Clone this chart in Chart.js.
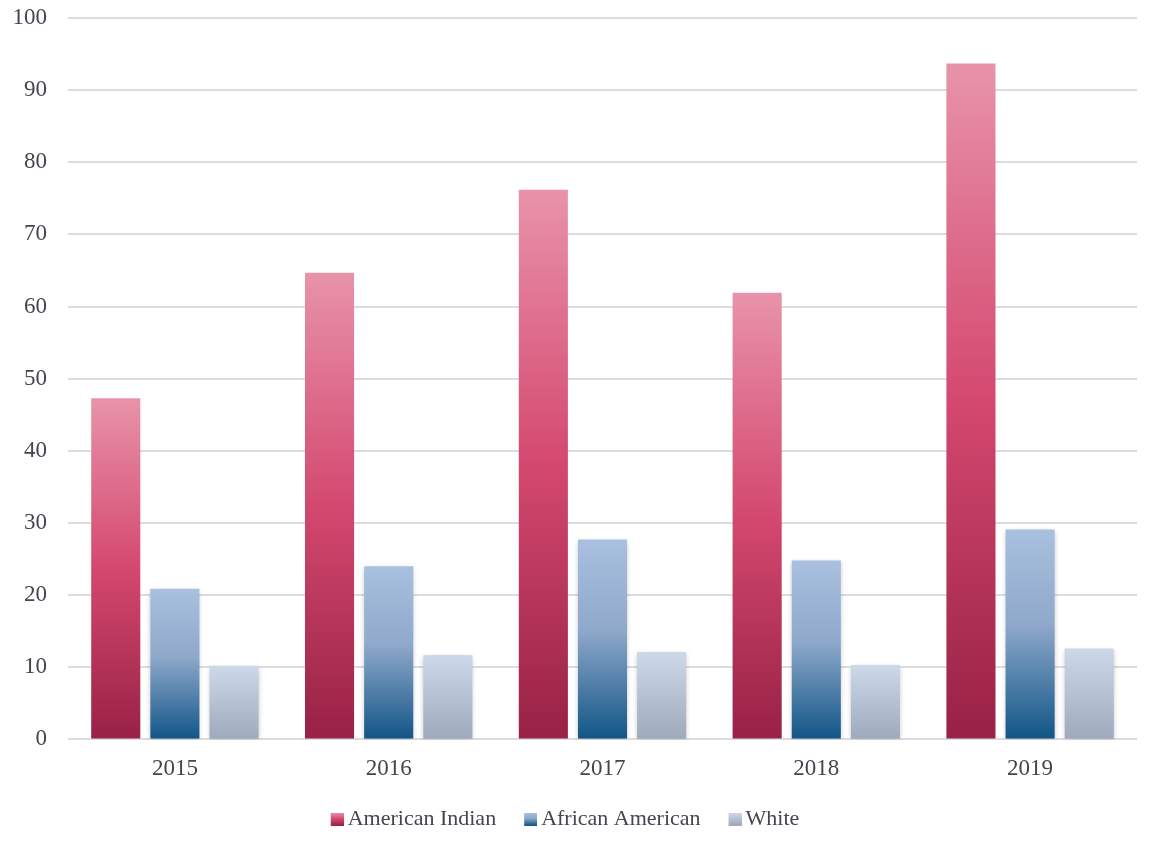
<!DOCTYPE html>
<html><head><meta charset="utf-8">
<script src="https://cdn.jsdelivr.net/npm/chart.js@4.4.1/dist/chart.umd.min.js"></script>
<style>html,body{margin:0;padding:0;background:#fff}#wrap{width:1156px;height:852px}</style>
</head><body><div id="wrap"><canvas id="c" width="1156" height="852"></canvas></div>
<script>
const categories = ["2015","2016","2017","2018","2019"];
const americanIndian = [47.3, 64.7, 76.2, 61.9, 93.7];
const africanAmerican = [20.9, 24.0, 27.7, 24.8, 29.1];
const white = [10.2, 11.7, 12.1, 10.3, 12.6];
const yTicks = [0,10,20,30,40,50,60,70,80,90,100];

const stops = [
  [[0,'#e893aa'],[0.5,'#d4486f'],[1,'#982145']],
  [[0,'#a9c0df'],[0.45,'#8fa9cb'],[1,'#115586']],
  [[0,'#cdd9e9'],[1,'#9ea9bb']]
];
function grad(ctx, y0, y1, s){
  const g = ctx.createLinearGradient(0,y0,0,y1);
  s.forEach(p=>g.addColorStop(p[0],p[1]));
  return g;
}
function barFill(idx){
  return function(context){
    const chart = context.chart;
    const s = stops[idx];
    if(!chart.chartArea || context.raw===undefined) return s[1][1];
    const y = chart.scales.y;
    const top = y.getPixelForValue(context.raw);
    const base = y.getPixelForValue(0);
    if(!isFinite(top)||!isFinite(base)||top===base) return s[1][1];
    return grad(chart.ctx, top, base, s);
  };
}
function swatch(idx){
  const cv = document.createElement('canvas');
  cv.width=27; cv.height=13;
  const c = cv.getContext('2d');
  c.fillStyle = grad(c,0,13,stops[idx]);
  c.fillRect(14,0,13,13);
  return cv;
}
const sw = [swatch(0),swatch(1),swatch(2)];

const shadowPlugin = {
  id:'shadow',
  afterLayout(chart){
    if(chart.legend){ chart.legend.left -= 12; chart.legend.right -= 12; }
  },
  beforeDatasetDraw(chart,args){
    if(args.index>0){
      const ctx=chart.ctx; ctx.save();
      ctx.shadowColor='rgba(0,0,0,0.25)'; ctx.shadowBlur=5; ctx.shadowOffsetX=0; ctx.shadowOffsetY=2;
    }
  },
  afterDatasetDraw(chart,args){ if(args.index>0) chart.ctx.restore(); }
};

const tickFont = {family:'Liberation Serif',size:23};
new Chart(document.getElementById('c'),{
  type:'bar',
  data:{labels:categories,datasets:[
    {label:'American Indian',data:americanIndian,backgroundColor:barFill(0),pointStyle:sw[0]},
    {label:'African American',data:africanAmerican,backgroundColor:barFill(1),pointStyle:sw[1]},
    {label:'White',data:white,backgroundColor:barFill(2),pointStyle:sw[2]}
  ]},
  options:{
    responsive:false,animation:false,
    layout:{padding:{left:10,right:19,top:18,bottom:12}},
    datasets:{bar:{categoryPercentage:0.83,barPercentage:0.83}},
    scales:{
      x:{grid:{display:false},border:{display:false},
         afterFit(ax){ax.height-=4;},
         ticks:{color:'#45454f',font:tickFont,padding:8}},
      y:{min:0,max:100,
         afterBuildTicks(ax){ax.ticks=yTicks.map(v=>({value:v}));},
         afterFit(ax){ax.width=58; ax.paddingTop=0; ax.paddingBottom=0;},
         grid:{color:'#dcdce0',lineWidth:2,drawTicks:false},border:{display:false},
         ticks:{color:'#45454f',font:tickFont,padding:21}}
    },
    plugins:{
      legend:{position:'bottom',labels:{usePointStyle:true,color:'#45454f',font:{family:'Liberation Serif',size:22},padding:21,boxWidth:13,boxHeight:13}},
      tooltip:{enabled:false}
    }
  },
  plugins:[shadowPlugin]
});
</script></body></html>
